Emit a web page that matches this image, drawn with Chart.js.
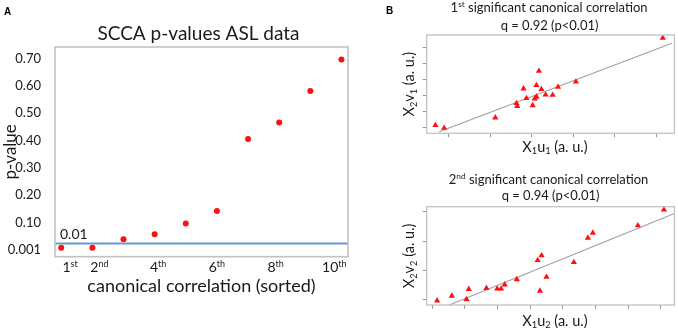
<!DOCTYPE html>
<html><head><meta charset="utf-8">
<script src="https://cdn.jsdelivr.net/npm/chart.js@4.4.1/dist/chart.umd.min.js"></script>
<style>
html,body{margin:0;padding:0;background:#fff;}
#wrap{position:relative;width:678px;height:333px;overflow:hidden;background:#fff;}
canvas{position:absolute;}
</style></head><body>
<div id="wrap">
<canvas id="cA" width="360" height="333" style="left:0;top:0;width:360px;height:333px"></canvas>
<canvas id="cB1" width="300" height="165" style="left:378px;top:0;width:300px;height:165px"></canvas>
<canvas id="cB2" width="300" height="168" style="left:378px;top:165px;width:300px;height:168px"></canvas>
</div>
<script>
// ---------- Panel A data ----------
const rankPositions = [1, 2, 3, 4, 5, 6, 7, 8, 9, 10];
const pValues = [0.008, 0.008, 0.039, 0.058, 0.097, 0.143, 0.406, 0.466, 0.581, 0.696];
const rankTickValues = [1, 2, 4, 6, 8, 10];
const rankTickLabels = [['1', 'st'], ['2', 'nd'], ['4', 'th'], ['6', 'th'], ['8', 'th'], ['10', 'th']];
const pTickValues = [0.001, 0.1, 0.2, 0.3, 0.4, 0.5, 0.6, 0.7];
const pTickLabels = ['0.001', '0.10', '0.20', '0.30', '0.40', '0.50', '0.60', '0.70'];
const thresholdValue = 0.024;
const thresholdLabel = '0.01';

// ---------- Panel B, 1st canonical correlation ----------
const cc1U = [-0.32, -0.11, 1.12, 1.63, 1.65, 1.80, 1.87, 2.02, 2.07, 2.11, 2.11, 2.17, 2.23, 2.33, 2.50, 2.63, 3.06, 5.15];
const cc1V = [0.15, -0.02, 0.62, 1.52, 1.33, 2.43, 1.83, 1.39, 1.80, 1.93, 2.64, 3.53, 2.39, 2.05, 2.03, 2.53, 2.86, 5.58];
const cc1FitU = [-0.23, 5.37];
const cc1FitV = [-0.25, 5.25];
const cc1TicksU = [0, 1, 2, 3, 4, 5];
const cc1TicksV = [0, 1, 2, 3, 4, 5];

// ---------- Panel B, 2nd canonical correlation ----------
const cc2U = [0.15, 0.60, 1.05, 1.12, 1.66, 1.99, 2.11, 2.22, 2.59, 3.23, 3.30, 3.35, 3.50, 4.34, 4.77, 4.92, 6.30, 7.10];
const cc2V = [-0.02, 0.14, 0.02, 0.37, 0.40, 0.38, 0.38, 0.52, 0.70, 1.35, 0.31, 1.51, 0.78, 1.28, 2.11, 2.28, 2.53, 3.07];
const cc2FitU = [0.52, 7.42];
const cc2FitV = [-0.17, 2.94];
const cc2TicksU = [0, 1, 2, 3, 4, 5, 6, 7];
const cc2TicksV = [0, 1, 2, 3];

// ---------- styling ----------
const FONT = 'Lato, "Open Sans", sans-serif';
const TXT = '#1a1a1a';
const RED = '#ff1010';
const BOX = '#c2c2c2';

function drawRich(ctx, segs, x, y, o) {
  const size = o.size, weight = o.weight || 'normal', fam = o.family || FONT;
  const small = size * 0.64;
  ctx.save();
  ctx.fillStyle = o.color || TXT;
  ctx.textBaseline = 'alphabetic';
  ctx.textAlign = 'left';
  const widths = segs.map(s => { ctx.font = weight + ' ' + (s[1] ? small : size) + 'px ' + fam; return ctx.measureText(s[0]).width; });
  const total = widths.reduce((a, b) => a + b, 0);
  ctx.translate(x, y);
  if (o.rotate) ctx.rotate(o.rotate);
  let cx = o.align === 'left' ? 0 : (o.align === 'right' ? -total : -total / 2);
  segs.forEach((s, i) => {
    ctx.font = weight + ' ' + (s[1] ? small : size) + 'px ' + fam;
    const dy = s[1] === 1 ? -size * 0.36 : (s[1] === -1 ? size * 0.2 : 0);
    ctx.fillText(s[0], cx, dy);
    cx += widths[i];
  });
  ctx.restore();
}

const boxPlugin = (color, lw) => ({
  id: 'box',
  afterDatasetsDraw(chart) {
    const a = chart.chartArea, ctx = chart.ctx;
    ctx.save();
    ctx.strokeStyle = color; ctx.lineWidth = lw;
    ctx.strokeRect(a.left, a.top, a.right - a.left, a.bottom - a.top);
    ctx.restore();
  }
});

const common = {
  responsive: false, animation: false, devicePixelRatio: 1,
  events: [],
};

// ---------- Panel A ----------
new Chart(document.getElementById('cA'), {
  type: 'scatter',
  data: { datasets: [{
    xAxisID: 'x', yAxisID: 'y',
    data: rankPositions.map((r, i) => ({ x: r, y: pValues[i] })),
    pointRadius: 3, pointHoverRadius: 3, backgroundColor: RED, borderWidth: 0
  }] },
  options: Object.assign({}, common, {
    layout: { padding: { left: 0, top: 47, right: 12, bottom: 0 } },
    plugins: { legend: { display: false }, tooltip: { enabled: false } },
    scales: {
      x: { type: 'linear', position: 'bottom', min: 0.8, max: 10.21,
        grid: { display: false }, border: { display: false }, ticks: { display: false },
        afterFit(s) { s.height = 76.3; },
        title: { display: true, text: 'canonical correlation (sorted)', color: TXT,
          font: { family: FONT, size: 18 }, padding: { top: 0, bottom: 36 } } },
      xLabel: { type: 'linear', axis: 'x', position: 'bottom', display: false, min: 0.489, max: 10.467 },
      y: { type: 'linear', min: -0.0245, max: 0.742,
        grid: { display: false }, border: { display: false },
        afterBuildTicks(s) { s.ticks = pTickValues.map(v => ({ value: v })); },
        ticks: { autoSkip: false, callback: (v, i) => pTickLabels[i], color: TXT,
          font: { family: FONT, size: 13 }, padding: 6 },
        afterFit(s) { s.width = 55; },
        title: { display: true, text: 'p-value', color: TXT,
          font: { family: FONT, size: 17 }, padding: { top: 0, bottom: 0 } } }
    }
  }),
  plugins: [boxPlugin(BOX, 1.6), {
    id: 'threshold',
    beforeDatasetsDraw(chart) {
      const a = chart.chartArea, ctx = chart.ctx;
      const py = chart.scales.y.getPixelForValue(thresholdValue);
      ctx.save();
      ctx.strokeStyle = '#6897d0'; ctx.lineWidth = 2;
      ctx.beginPath(); ctx.moveTo(a.left, py); ctx.lineTo(a.right, py); ctx.stroke();
      ctx.restore();
    },
    afterDraw(chart) {
      const a = chart.chartArea, ctx = chart.ctx;
      const py = chart.scales.y.getPixelForValue(thresholdValue);
      drawRich(ctx, [[thresholdLabel, 0]], a.left + 5, py - 4, { size: 14, align: 'left' });
      const xl = chart.scales.xLabel;
      rankTickValues.forEach((v, i) => {
        drawRich(ctx, [[rankTickLabels[i][0], 0], [rankTickLabels[i][1], 1]],
          xl.getPixelForValue(v), a.bottom + 15, { size: 14 });
      });
      drawRich(ctx, [['SCCA p-values ASL data', 0]], (a.left + a.right) / 2 - 3, 39.5, { size: 19 });
      drawRich(ctx, [['A', 0]], 4, 14.5, { size: 10, weight: 'bold', family: '"Liberation Sans", Arial, sans-serif', align: 'left', color: '#000' });
    }
  }]
});

// ---------- Panel B scatter builder ----------
function scatterB(id, U, V, fitU, fitV, ticksU, ticksV, rng, pad, xH, texts) {
  new Chart(document.getElementById(id), {
    type: 'scatter',
    data: { datasets: [
      { xAxisID: 'x', yAxisID: 'y',
        data: U.map((u, i) => ({ x: u, y: V[i] })),
        pointStyle: 'triangle', pointRadius: 3.6, pointHoverRadius: 3.6,
        backgroundColor: RED, borderColor: RED, borderWidth: 0 },
      { type: 'line', xAxisID: 'x', yAxisID: 'y',
        data: fitU.map((u, i) => ({ x: u, y: fitV[i] })),
        borderColor: '#a0a0a0', borderWidth: 1.1, pointRadius: 0, fill: false, tension: 0 }
    ] },
    options: Object.assign({}, common, {
      layout: { padding: pad },
      plugins: { legend: { display: false }, tooltip: { enabled: false } },
      scales: {
        x: { type: 'linear', min: rng[0], max: rng[1],
          afterBuildTicks(s) { s.ticks = ticksU.map(v => ({ value: v })); },
          ticks: { display: false },
          grid: { display: true, drawOnChartArea: false, drawTicks: true, tickLength: 4, color: '#9a9a9a', lineWidth: 1 },
          border: { display: false },
          afterFit(s) { s.height = xH; } },
        y: { type: 'linear', min: rng[2], max: rng[3],
          afterBuildTicks(s) { s.ticks = ticksV.map(v => ({ value: v })); },
          ticks: { display: false },
          grid: { display: true, drawOnChartArea: false, drawTicks: true, tickLength: 4, color: '#9a9a9a', lineWidth: 1 },
          border: { display: false },
          afterFit(s) { s.width = 48.7; } }
      }
    }),
    plugins: [boxPlugin(BOX, 1.3), { id: 'txt', afterDraw(chart) { texts(chart.ctx, chart.chartArea); } }]
  });
}

scatterB('cB1', cc1U, cc1V, cc1FitU, cc1FitV, cc1TicksU, cc1TicksV,
  [-0.53, 5.43, -0.35, 5.77], { left: 0, top: 35, right: 2, bottom: 0 }, 31.7,
  (ctx, a) => {
    const cx = (a.left + a.right) / 2;
    drawRich(ctx, [['B', 0]], 8, 13.5, { size: 10, weight: 'bold', family: '"Liberation Sans", Arial, sans-serif', align: 'left', color: '#000' });
    drawRich(ctx, [['1', 0], ['st', 1], [' significant canonical correlation', 0]], cx - 1.5, 12, { size: 13 });
    drawRich(ctx, [['q = 0.92 (p<0.01)', 0]], cx - 1, 29.5, { size: 13 });
    drawRich(ctx, [['X', 0], ['1', -1], ['u', 0], ['1', -1], [' (a. u.)', 0]], 177, 151.5, { size: 14.5 });
    drawRich(ctx, [['X', 0], ['2', -1], ['v', 0], ['1', -1], [' (a. u.)', 0]], 36, (a.top + a.bottom) / 2, { size: 14.5, rotate: -Math.PI / 2 });
  });

scatterB('cB2', cc2U, cc2V, cc2FitU, cc2FitV, cc2TicksU, cc2TicksV,
  [-0.17, 7.42, -0.17, 3.17], { left: 0, top: 41.7, right: 2, bottom: 0 }, 28,
  (ctx, a) => {
    const cx = (a.left + a.right) / 2;
    drawRich(ctx, [['2', 0], ['nd', 1], [' significant canonical correlation', 0]], cx - 2, 18.5, { size: 13 });
    drawRich(ctx, [['q = 0.94 (p<0.01)', 0]], cx, 34.5, { size: 13 });
    drawRich(ctx, [['X', 0], ['1', -1], ['u', 0], ['2', -1], [' (a. u.)', 0]], 177, 160.5, { size: 14.5 });
    drawRich(ctx, [['X', 0], ['2', -1], ['v', 0], ['2', -1], [' (a. u.)', 0]], 36, (a.top + a.bottom) / 2, { size: 14.5, rotate: -Math.PI / 2 });
  });
</script>
</body></html>
